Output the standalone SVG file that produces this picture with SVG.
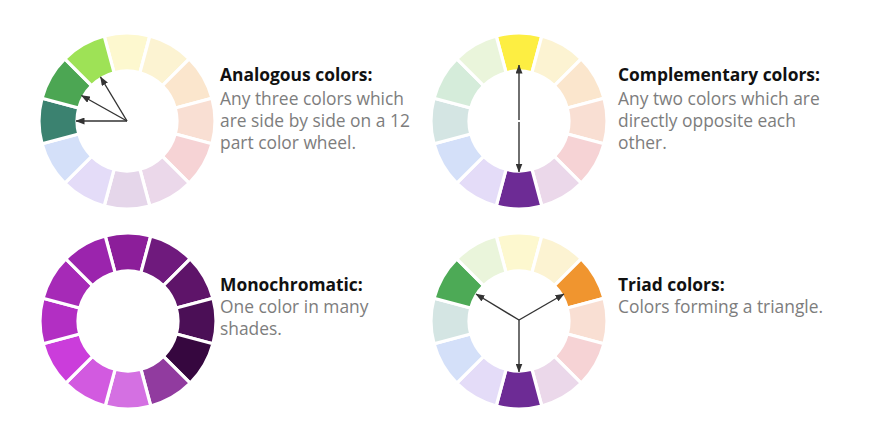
<svg xmlns="http://www.w3.org/2000/svg" width="875" height="435" viewBox="0 0 875 435">
<style>
.seg{stroke:#fff;stroke-width:3.2;stroke-linejoin:miter}
.t{font-family:"Open Sans","Liberation Sans",sans-serif;font-size:17.4px;font-weight:700;fill:#111}
.b{font-family:"Open Sans","Liberation Sans",sans-serif;font-size:17.4px;fill:#7d7d7d}
.arr{stroke:#333;stroke-width:1.4;fill:none;marker-end:url(#ah)}
</style>
<defs>
<path id="s" class="seg" d="M-22.776,-85.001 A88,88 0 0 1 22.776,-85.001 L12.941,-48.296 A50,50 0 0 0 -12.941,-48.296 Z"/>
<marker id="ah" markerWidth="9" markerHeight="7" refX="8.5" refY="3.5" orient="auto" markerUnits="userSpaceOnUse">
<path d="M0,0 L9,3.5 L0,7 Z" fill="#333"/>
</marker>
</defs>
<rect width="875" height="435" fill="#fff"/>

<g id="wheel-analogous" transform="translate(127,121)">
<use href="#s" fill="#fdf8cf"/>
<use href="#s" fill="#fcf3d2" transform="rotate(30)"/>
<use href="#s" fill="#fbe6cd" transform="rotate(60)"/>
<use href="#s" fill="#f9dfd3" transform="rotate(90)"/>
<use href="#s" fill="#f6d3d5" transform="rotate(120)"/>
<use href="#s" fill="#ebd8ea" transform="rotate(150)"/>
<use href="#s" fill="#e5d6ea" transform="rotate(180)"/>
<use href="#s" fill="#e4dcf8" transform="rotate(210)"/>
<use href="#s" fill="#d4e0f9" transform="rotate(240)"/>
<use href="#s" fill="#3b8270" transform="rotate(270)"/>
<use href="#s" fill="#4ca653" transform="rotate(300)"/>
<use href="#s" fill="#9ee256" transform="rotate(330)"/>
</g>

<g id="wheel-complementary" transform="translate(519,121)">
<use href="#s" fill="#fdee42"/>
<use href="#s" fill="#fcf3d2" transform="rotate(30)"/>
<use href="#s" fill="#fbe6cd" transform="rotate(60)"/>
<use href="#s" fill="#f9dfd3" transform="rotate(90)"/>
<use href="#s" fill="#f6d3d5" transform="rotate(120)"/>
<use href="#s" fill="#ebd8ea" transform="rotate(150)"/>
<use href="#s" fill="#6d2b95" transform="rotate(180)"/>
<use href="#s" fill="#e4dcf8" transform="rotate(210)"/>
<use href="#s" fill="#d4e0f9" transform="rotate(240)"/>
<use href="#s" fill="#d4e5e3" transform="rotate(270)"/>
<use href="#s" fill="#d5ecda" transform="rotate(300)"/>
<use href="#s" fill="#eaf5db" transform="rotate(330)"/>
</g>

<g id="wheel-monochromatic" transform="translate(128,321)">
<use href="#s" fill="#8c1e9a"/>
<use href="#s" fill="#6f1a7d" transform="rotate(30)"/>
<use href="#s" fill="#5e1469" transform="rotate(60)"/>
<use href="#s" fill="#4b0f56" transform="rotate(90)"/>
<use href="#s" fill="#36073f" transform="rotate(120)"/>
<use href="#s" fill="#913b9f" transform="rotate(150)"/>
<use href="#s" fill="#d470e2" transform="rotate(180)"/>
<use href="#s" fill="#d25ae0" transform="rotate(210)"/>
<use href="#s" fill="#cb3ddb" transform="rotate(240)"/>
<use href="#s" fill="#b22fc3" transform="rotate(270)"/>
<use href="#s" fill="#a62ab7" transform="rotate(300)"/>
<use href="#s" fill="#9b24ad" transform="rotate(330)"/>
</g>

<g id="wheel-triad" transform="translate(519,321)">
<use href="#s" fill="#fdf8cf"/>
<use href="#s" fill="#fcf3d2" transform="rotate(30)"/>
<use href="#s" fill="#f0952f" transform="rotate(60)"/>
<use href="#s" fill="#f9dfd3" transform="rotate(90)"/>
<use href="#s" fill="#f6d3d5" transform="rotate(120)"/>
<use href="#s" fill="#ebd8ea" transform="rotate(150)"/>
<use href="#s" fill="#6d2b95" transform="rotate(180)"/>
<use href="#s" fill="#e4dcf8" transform="rotate(210)"/>
<use href="#s" fill="#d4e0f9" transform="rotate(240)"/>
<use href="#s" fill="#d4e5e3" transform="rotate(270)"/>
<use href="#s" fill="#4daa56" transform="rotate(300)"/>
<use href="#s" fill="#eaf5db" transform="rotate(330)"/>
</g>

<g id="connectors">
<line class="arr" x1="127" y1="121" x2="76" y2="121"/>
<line class="arr" x1="127" y1="121" x2="81.5" y2="95.5"/>
<line class="arr" x1="127" y1="121" x2="100.5" y2="77"/>
<line class="arr" x1="519" y1="120" x2="519" y2="65"/>
<line class="arr" x1="519" y1="122" x2="519" y2="172"/>
<line class="arr" x1="519" y1="320" x2="519" y2="372"/>
<line class="arr" x1="519" y1="320" x2="476" y2="294"/>
<line class="arr" x1="519" y1="320" x2="564" y2="294"/>
</g>

<g id="label-analogous">
<text class="t" x="220" y="81">Analogous colors:</text>
<text class="b" x="220" y="105">Any three colors which</text>
<text class="b" x="220" y="127">are side by side on a 12</text>
<text class="b" x="220" y="149">part color wheel.</text>
</g>
<g id="label-complementary">
<text class="t" x="618" y="81">Complementary colors:</text>
<text class="b" x="618" y="105">Any two colors which are</text>
<text class="b" x="618" y="127">directly opposite each</text>
<text class="b" x="618" y="149">other.</text>
</g>
<g id="label-monochromatic">
<text class="t" x="220" y="291">Monochromatic:</text>
<text class="b" x="220" y="313">One color in many</text>
<text class="b" x="220" y="335">shades.</text>
</g>
<g id="label-triad">
<text class="t" x="618" y="291">Triad colors:</text>
<text class="b" x="618" y="313">Colors forming a triangle.</text>
</g>
</svg>
